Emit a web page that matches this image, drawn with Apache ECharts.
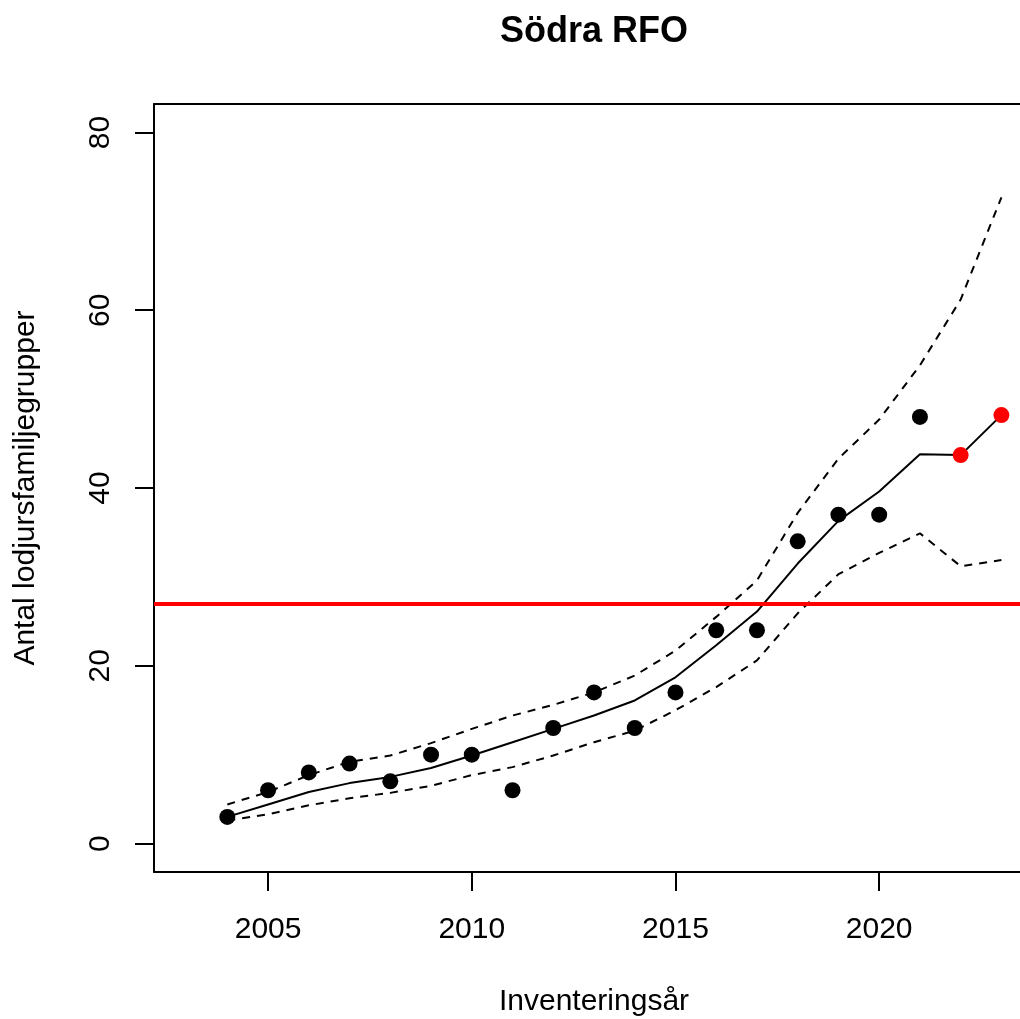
<!DOCTYPE html>
<html>
<head>
<meta charset="utf-8">
<title>Södra RFO</title>
<script src="https://cdn.jsdelivr.net/npm/echarts@6/dist/echarts.min.js"></script>
<style>
  html, body { margin: 0; padding: 0; background: #fff; }
  #chart { width: 1020px; height: 1019px; }
</style>
</head>
<body>
<div id="chart"></div>
<script>
// Inventory years
const years = [2004, 2005, 2006, 2007, 2008, 2009, 2010, 2011, 2012, 2013,
               2014, 2015, 2016, 2017, 2018, 2019, 2020, 2021, 2022, 2023];

// Observed number of family groups (2004–2021)
const observed = [3, 6, 8, 9, 7, 10, 10, 6, 13, 17, 13, 17, 24, 24, 34, 37, 37, 48];

// Estimated trend with lower and upper bounds
const trend = [3.0, 4.4, 5.8, 6.8, 7.5, 8.5, 9.9, 11.4, 12.9, 14.4,
               16.1, 18.7, 22.3, 26.1, 31.5, 36.3, 39.6, 43.8, 43.7, 48.2];
const upper = [4.4, 5.8, 7.7, 9.2, 9.9, 11.3, 12.9, 14.4, 15.6, 17.0,
               18.9, 21.7, 25.5, 29.6, 37.2, 43.3, 47.7, 53.8, 61.2, 72.7];
const lower = [2.6, 3.3, 4.3, 5.1, 5.7, 6.5, 7.7, 8.6, 9.9, 11.4,
               12.7, 15.0, 17.6, 20.6, 25.9, 30.3, 32.7, 34.9, 31.2, 31.9];

// Forecast years (shown in red)
const forecastYears = [2022, 2023];
const forecast = [43.7, 48.2];

// Reference level
const referenceLevel = 27;

// Tick labels
const xTicks = [2005, 2010, 2015, 2020];
const yTicks = [0, 20, 40, 60, 80];

const pairs = (xs, ys) => ys.map((v, i) => [xs[i], v]);

const FONT = '"Liberation Sans", Arial, Helvetica, sans-serif';
const chart = echarts.init(document.getElementById('chart'), null, { renderer: 'canvas' });

const frameLine = { show: true, onZero: false, lineStyle: { color: '#000', width: 2 } };

chart.setOption({
  animation: false,
  backgroundColor: '#ffffff',
  textStyle: { fontFamily: FONT, color: '#000' },
  // plot region runs past the right edge of the canvas
  grid: {
    left: 154, top: 104, width: 880, height: 768,
    show: false, outerBoundsMode: 'none'
  },
  graphic: [{
    type: 'text',
    x: 594, y: 14,
    style: {
      text: 'Södra RFO',
      textAlign: 'center',
      textVerticalAlign: 'top',
      fontFamily: FONT, fontSize: 36, fontWeight: 'bold', fill: '#000'
    }
  }],
  xAxis: [{
    type: 'value',
    position: 'bottom',
    min: 2002.2, max: 2023.8,
    name: 'Inventeringsår',
    nameLocation: 'middle',
    nameGap: 115,
    nameTextStyle: { fontSize: 30, color: '#000', fontFamily: FONT },
    axisLine: frameLine,
    splitLine: { show: false },
    axisTick: {
      show: true, inside: false, length: 19,
      customValues: xTicks,
      lineStyle: { color: '#000', width: 2 }
    },
    axisLabel: {
      customValues: xTicks,
      fontSize: 30, color: '#000', fontFamily: FONT, margin: 43,
      formatter: v => String(v)
    }
  }, {
    // top edge of the frame
    type: 'value',
    position: 'top',
    min: 2002.2, max: 2023.8,
    axisLine: frameLine,
    axisTick: { show: false },
    axisLabel: { show: false },
    splitLine: { show: false }
  }],
  yAxis: {
    type: 'value',
    min: -3.2, max: 83.2,
    name: 'Antal lodjursfamiljegrupper',
    nameLocation: 'middle',
    nameRotate: 90,
    nameGap: 113,
    nameTextStyle: { fontSize: 30, color: '#000', fontFamily: FONT },
    axisLine: frameLine,
    splitLine: { show: false },
    axisTick: {
      show: true, inside: false, length: 19,
      customValues: yTicks,
      lineStyle: { color: '#000', width: 2 }
    },
    axisLabel: {
      customValues: yTicks,
      rotate: 90,
      fontSize: 30, color: '#000', fontFamily: FONT, margin: 38,
      formatter: v => String(v)
    }
  },
  series: [
    {
      // horizontal reference level across the plot
      type: 'line',
      data: [],
      silent: true,
      z: 1,
      markLine: {
        silent: true,
        symbol: ['none', 'none'],
        label: { show: false },
        lineStyle: { color: '#ff0000', width: 4, type: 'solid', opacity: 1 },
        data: [{ yAxis: referenceLevel }]
      }
    },
    {
      name: 'upper',
      type: 'line',
      data: pairs(years, upper),
      showSymbol: false,
      z: 2,
      lineStyle: { color: '#000', width: 2, type: [8, 7] }
    },
    {
      name: 'lower',
      type: 'line',
      data: pairs(years, lower),
      showSymbol: false,
      z: 2,
      lineStyle: { color: '#000', width: 2, type: [8, 7] }
    },
    {
      name: 'trend',
      type: 'line',
      data: pairs(years, trend),
      showSymbol: false,
      z: 3,
      lineStyle: { color: '#000', width: 2 }
    },
    {
      name: 'observed',
      type: 'scatter',
      data: pairs(years, observed),
      symbol: 'circle',
      symbolSize: 16,
      z: 4,
      itemStyle: { color: '#000', opacity: 1 }
    },
    {
      name: 'forecast',
      type: 'scatter',
      data: pairs(forecastYears, forecast),
      symbol: 'circle',
      symbolSize: 16,
      z: 4,
      itemStyle: { color: '#ff0000', opacity: 1 }
    }
  ]
});
</script>
</body>
</html>
